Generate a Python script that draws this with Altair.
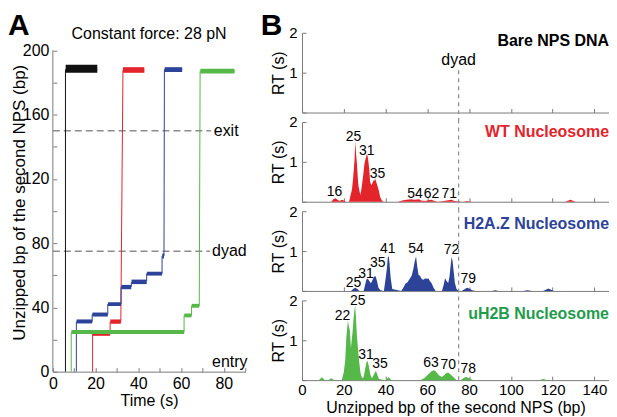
import altair as alt
import pandas as pd

FONT = "Liberation Sans"
AXIS_GRAY = "#7a7a7a"
DASH_GRAY = "#8c8c8c"

BLACK = "#111111"
RED = "#e3242b"
BLUE = "#2d4399"
GREEN = "#55b848"
GREEN_TXT = "#1f9c4b"

# ---------------- Panel A: constant-force unzipping traces ----------------
black_t = [5.9, 5.9, 20.8]
black_bp = [0, 188, 188]
red_t = [18.6, 18.6, 26.8, 26.8, 31.8, 32.8, 42.8]
red_bp = [0, 23.5, 23.5, 31, 31, 187.5, 187.5]
blue_t = [11.0, 11.0, 18.4, 18.4, 25.7, 25.7, 31.9, 31.9, 36.7, 36.7, 43.9, 43.9, 51.1, 51.1, 52.0, 52.2, 60.5]
blue_bp = [0, 31, 31, 35.5, 35.5, 42, 42, 52.5, 53, 55.5, 56.5, 61, 61, 72, 72, 188, 188]
green_t = [8.6, 8.6, 61.4, 61.4, 64.9, 64.9, 68.5, 68.9, 85.0]
green_bp = [0, 24.5, 24.5, 35, 35, 41, 41, 187, 187]

# noisy dwell plateaus: (start s, end s, low bp, high bp)
black_dw = [(6.0, 20.8, 186, 191)]
red_dw = [(18.7, 26.8, 22.3, 24.8), (26.9, 31.8, 29.8, 32.5), (32.8, 42.8, 186, 189.5)]
blue_dw = [(11.1, 18.4, 30, 32.5), (18.5, 25.7, 34.3, 36.8), (25.8, 31.9, 40.8, 43.2),
           (32.0, 36.7, 51.3, 54), (36.8, 43.9, 54.5, 57.3), (44.0, 51.1, 59.8, 62.2),
           (51.2, 52.0, 70.5, 73.5), (52.3, 60.5, 186.5, 189.5)]
green_dw = [(8.7, 61.4, 23.4, 26), (61.5, 64.9, 33.8, 36.2), (65.0, 68.5, 39.8, 42.2),
            (69.0, 85.0, 185.5, 188.5)]

ref_line_bp = [150, 75]
ref_line_end = [74, 73.5]
ref_label_names = ["exit", "dyad", "entry"]
ref_label_bp = [150, 75, 6]
ref_label_t = [75.3, 74.5, 74.5]

# ---------------- Panel B: residence time histograms ----------------
DYAD_B = 75
wt_bp = [0, 14, 15, 16, 17, 18, 19, 20, 21, 22.5, 23.2, 23.9, 24.4, 24.8, 25.2, 25.5, 25.9, 26.3,
         26.7, 27.1, 27.6, 27.9, 28.4, 29, 29.5, 29.9, 30.3, 30.7, 31, 31.4, 31.8, 32.2, 32.6,
         33.1, 33.6, 34.2, 34.6, 35, 35.5, 36.3, 36.9, 37.4, 38.2, 39, 46, 48, 50, 52, 54, 56,
         57, 59, 60.5, 62, 63.5, 65, 68, 70, 71.5, 73, 77, 79, 81, 126, 128.5, 131, 147]
wt_rt = [0, 0, 0.06, 0.09, 0.05, 0.02, 0.05, 0.03, 0, 0, 0.15, 0.3, 0.55, 0.8, 1.1, 1.52, 1.2, 0.95,
         0.6, 0.37, 0.25, 0.17, 0.3, 0.54, 0.75, 0.96, 1.05, 1.12, 1.2, 1.15, 1.0, 0.8, 0.5,
         0.42, 0.45, 0.54, 0.52, 0.58, 0.5, 0.37, 0.25, 0.12, 0.04, 0, 0, 0.03, 0.05, 0.06, 0.05, 0.06,
         0.03, 0.02, 0.04, 0.05, 0.02, 0, 0.02, 0.04, 0.05, 0.02, 0, 0.02, 0, 0, 0.05, 0, 0]
wt_lab = ["16", "25", "31", "35", "54", "62", "71"]
wt_lab_bp = [15.5, 24.7, 31, 36.1, 54.1, 62, 70.5]
wt_lab_rt = [0.14, 1.53, 1.17, 0.6, 0.1, 0.1, 0.1]

h2az_bp = [0, 23.5, 24.5, 25.5, 26.5, 27.5, 29.5, 30.2, 30.8, 31.5, 32.2, 33, 33.8, 34.5, 35.2,
           35.9, 36.6, 37.5, 39.2, 40, 40.6, 41.1, 41.5, 41.9, 42.4, 43.2, 47.5, 48.5, 49.5, 50.5,
           51.5, 52.5, 53.3, 54, 54.6, 55.2, 55.8, 56.5, 57.3, 58.2, 59, 59.8, 60.5, 61.2, 62, 63,
           64, 67, 67.8, 68.5, 69.2, 70, 70.6, 71.1, 71.6, 72.1, 72.6, 73.2, 74, 75, 76.5, 78, 79,
           80, 81.5, 83, 91, 92.5, 94, 106, 108, 110, 115.5, 118, 120.5, 147]
h2az_rt = [0, 0, 0.05, 0.08, 0.05, 0, 0, 0.15, 0.28, 0.31, 0.25, 0.19, 0.28, 0.36, 0.37,
           0.25, 0.08, 0.02, 0, 0.3, 0.55, 0.85, 0.87, 0.7, 0.35, 0.05, 0, 0.08, 0.18, 0.22,
           0.3, 0.38, 0.55, 0.75, 0.87, 0.6, 0.4, 0.38, 0.3, 0.28, 0.32, 0.3, 0.32, 0.25, 0.2, 0.08,
           0, 0, 0.15, 0.32, 0.25, 0.2, 0.35, 0.6, 0.85, 0.75, 0.5, 0.2, 0.05, 0, 0, 0.05, 0.08,
           0.06, 0.02, 0, 0, 0.02, 0, 0, 0.02, 0, 0, 0.06, 0, 0]
h2az_lab = ["25", "31", "35", "41", "54", "72", "79"]
h2az_lab_bp = [24.7, 30.6, 36.3, 41, 54.6, 71.6, 79.6]
h2az_lab_rt = [0.1, 0.33, 0.6, 0.95, 0.95, 0.93, 0.2]

uh_bp = [0, 8, 9.5, 11, 12.5, 14, 15.5, 19, 20, 20.7, 21.2, 21.6, 22, 22.4, 22.9, 23.4, 23.8,
         24.2, 24.6, 25, 25.4, 25.8, 26.3, 26.8, 27.3, 28, 28.8, 29.5, 30.3, 30.9, 31.4, 32, 32.7,
         33.5, 34.3, 34.9, 35.4, 36, 36.8, 40, 41.4, 43, 56.5, 58.5, 60.5, 62, 63, 64, 65.5, 67,
         68, 69, 70, 71, 72.5, 74, 76, 77.5, 78.8, 80, 82, 113.5, 115.5, 117.5, 147]
uh_rt = [0, 0, 0.07, 0, 0, 0.05, 0, 0, 0.2, 0.5, 1.05, 1.3, 1.49, 1.35, 1.25, 0.8, 1.0,
         1.2, 1.5, 1.7, 1.88, 1.6, 1.1, 0.8, 0.5, 0.18, 0.05, 0.08, 0.3, 0.45, 0.48, 0.35, 0.14,
         0.05, 0.12, 0.2, 0.23, 0.15, 0.03, 0, 0.07, 0, 0, 0.05, 0.15, 0.22, 0.25, 0.22, 0.12, 0.08,
         0.12, 0.17, 0.19, 0.15, 0.08, 0, 0, 0.06, 0.08, 0.05, 0, 0, 0.03, 0, 0]
uh_lab = ["22", "25", "31", "35", "63", "70", "78"]
uh_lab_bp = [19.4, 26.7, 30.6, 37.4, 61.8, 70, 79.6]
uh_lab_rt = [1.5, 1.88, 0.53, 0.3, 0.34, 0.28, 0.17]

# ---------------- Panel A chart ----------------
A_W, A_H = 193, 340
A_YMAX = 210.9
xA = alt.Scale(domain=[0, 90], nice=False, zero=False)
yA = alt.Scale(domain=[0, A_YMAX], nice=False, zero=False)
one = pd.DataFrame({"t": [0], "b0": [0], "b1": [200]})

a_axis = alt.Chart(one).mark_rule(color=AXIS_GRAY, strokeWidth=1).encode(
    x=alt.X("t:Q", scale=xA, axis=alt.Axis(
        orient="bottom", values=list(range(0, 81, 20)), title="Time (s)", ticks=False,
        domain=True, domainColor=AXIS_GRAY, labelPadding=4, labelFlush=False, titlePadding=1)),
    y=alt.Y("b0:Q", scale=yA, axis=alt.Axis(
        orient="left", values=list(range(0, 201, 40)), title="Unzipped bp of the second NPS (bp)",
        ticks=False, domain=False, labelPadding=4, titlePadding=-6.5, titleFontSize=17)),
    y2="b1",
)
a_ticks = alt.Chart(one).mark_point(opacity=0).encode(
    x=alt.X("t:Q", scale=xA, axis=alt.Axis(
        orient="top", offset=-A_H, values=list(range(0, 91, 10)), labels=False, domain=False,
        tickSize=4, tickColor=AXIS_GRAY, title=None)),
    y=alt.Y("b0:Q", scale=yA, axis=alt.Axis(
        orient="right", offset=-A_W, values=list(range(0, 201, 20)), labels=False, domain=False,
        tickSize=4, tickColor=AXIS_GRAY, title=None)),
)

refs = alt.Chart(pd.DataFrame({"bp": ref_line_bp, "t1": ref_line_end, "t0": [0, 0]})).mark_rule(
    color=DASH_GRAY, strokeDash=[7, 4], strokeWidth=1.5).encode(
    x=alt.X("t0:Q", scale=xA, axis=None), x2="t1", y=alt.Y("bp:Q", scale=yA, axis=None))
ref_lab = alt.Chart(pd.DataFrame({"name": ref_label_names, "bp": ref_label_bp, "t": ref_label_t})).mark_text(
    align="left", baseline="middle", fontSize=16, font=FONT, color="black").encode(
    x=alt.X("t:Q", scale=xA, axis=None), y=alt.Y("bp:Q", scale=yA, axis=None), text="name:N")


def trace(t, bp, dw, color):
    df = pd.DataFrame({"t": t, "bp": bp, "i": list(range(len(t)))})
    line = alt.Chart(df).mark_line(color=color, strokeWidth=1).encode(
        x=alt.X("t:Q", scale=xA, axis=None), y=alt.Y("bp:Q", scale=yA, axis=None), order="i:Q")
    ddf = pd.DataFrame(dw, columns=["t0", "t1", "lo", "hi"])
    rect = alt.Chart(ddf).mark_rect(color=color).encode(
        x=alt.X("t0:Q", scale=xA, axis=None), x2="t1", y=alt.Y("lo:Q", scale=yA, axis=None), y2="hi")
    return [line, rect]


a_title = alt.Chart(one).mark_text(fontSize=16, font=FONT, align="center", baseline="alphabetic").encode(
    x=alt.value(A_W / 2), y=alt.value(6.5), text=alt.value("Constant force: 28 pN"))
a_letter = alt.Chart(one).mark_text(fontSize=30, font=FONT, fontWeight="bold", align="left",
                                    baseline="alphabetic").encode(
    x=alt.value(-45), y=alt.value(2), text=alt.value("A"))

panelA = alt.layer(
    a_axis, a_ticks, refs,
    *trace(black_t, black_bp, black_dw, BLACK),
    *trace(red_t, red_bp, red_dw, RED),
    *trace(blue_t, blue_bp, blue_dw, BLUE),
    *trace(green_t, green_bp, green_dw, GREEN),
    ref_lab, a_title, a_letter,
).properties(width=A_W, height=A_H)

# ---------------- Panel B charts ----------------
B_W, B_H = 308, 80
xB = alt.Scale(domain=[0, 147], nice=False, zero=False)
yB = alt.Scale(domain=[0, 2], nice=False, zero=False)


def b_panel(name, name_rt, name_color, rule_lo, rule_hi, bottom,
            area=None, color=None, labels=None, extras=()):
    xaxis_kw = dict(orient="bottom", values=list(range(0, 141, 20)), labels=bottom, ticks=False,
                    domain=True, domainColor=AXIS_GRAY, labelPadding=2, labelFlush=False,
                    labelFontSize=15, titlePadding=2)
    xaxis_kw["title"] = "Unzipped bp of the second NPS (bp)" if bottom else None
    axis_df = pd.DataFrame({"bp": [DYAD_B], "lo": [rule_lo], "hi": [rule_hi]})
    layers = [alt.Chart(axis_df).mark_rule(color=DASH_GRAY, strokeDash=[4, 4], strokeWidth=1.2).encode(
        x=alt.X("bp:Q", scale=xB, axis=alt.Axis(**xaxis_kw)),
        y=alt.Y("lo:Q", scale=yB, axis=alt.Axis(
            orient="left", values=[1, 2], title="RT (s)", ticks=False, domain=True,
            domainColor=AXIS_GRAY, labelPadding=5, labelFontSize=15, titlePadding=2)),
        y2="hi",
    )]
    layers.append(alt.Chart(axis_df).mark_point(opacity=0).encode(
        x=alt.X("bp:Q", scale=xB, axis=alt.Axis(
            orient="top", offset=-B_H, values=list(range(0, 141, 20)), labels=False, domain=False,
            tickSize=4, tickColor=AXIS_GRAY, title=None)),
        y=alt.Y("lo:Q", scale=yB, axis=alt.Axis(
            orient="right", offset=-B_W, values=[0, 1, 2], labels=False, domain=False,
            tickSize=4, tickColor=AXIS_GRAY, title=None)),
    ))
    if area is not None:
        adf = pd.DataFrame({"bp": area[0], "rt": area[1]})
        layers.insert(0, alt.Chart(adf).mark_area(color=color, interpolate="linear").encode(
            x=alt.X("bp:Q", scale=xB, axis=None), y=alt.Y("rt:Q", scale=yB, axis=None)))
        ldf = pd.DataFrame({"txt": labels[0], "bp": labels[1], "rt": labels[2]})
        layers.append(alt.Chart(ldf).mark_text(fontSize=14, font=FONT, color="black",
                                               baseline="alphabetic", align="center").encode(
            x=alt.X("bp:Q", scale=xB, axis=None), y=alt.Y("rt:Q", scale=yB, axis=None), text="txt:N"))
    ndf = pd.DataFrame({"txt": [name], "bp": [147], "rt": [name_rt]})
    layers.append(alt.Chart(ndf).mark_text(fontSize=16, font=FONT, fontWeight="bold", color=name_color,
                                           align="right", baseline="alphabetic").encode(
        x=alt.X("bp:Q", scale=xB, axis=None), y=alt.Y("rt:Q", scale=yB, axis=None), text="txt:N"))
    layers.extend(extras)
    return alt.layer(*layers).properties(width=B_W, height=B_H)


dyad_txt = alt.Chart(pd.DataFrame({"txt": ["dyad"], "bp": [DYAD_B], "rt": [1.2]})).mark_text(
    fontSize=16, font=FONT, color="black", align="center", baseline="alphabetic").encode(
    x=alt.X("bp:Q", scale=xB, axis=None), y=alt.Y("rt:Q", scale=yB, axis=None), text="txt:N")
b_letter = alt.Chart(one).mark_text(fontSize=30, font=FONT, fontWeight="bold", align="left",
                                    baseline="alphabetic").encode(
    x=alt.value(-41.3), y=alt.value(2), text=alt.value("B"))

b1 = b_panel("Bare NPS DNA", 1.68, "black", -0.24, 1.12, False, extras=(dyad_txt, b_letter))
b2 = b_panel("WT Nucleosome", 1.62, RED, -0.24, 2.0, False, area=(wt_bp, wt_rt), color=RED,
             labels=(wt_lab, wt_lab_bp, wt_lab_rt))
b3 = b_panel("H2A.Z Nucleosome", 1.55, BLUE, -0.24, 2.0, False, area=(h2az_bp, h2az_rt), color=BLUE,
             labels=(h2az_lab, h2az_lab_bp, h2az_lab_rt))
b4 = b_panel("uH2B Nucleosome", 1.54, GREEN_TXT, 0, 2.0, True, area=(uh_bp, uh_rt), color=GREEN,
             labels=(uh_lab, uh_lab_bp, uh_lab_rt))

panelB = alt.vconcat(b1, b2, b3, b4, spacing=9.5, bounds="flush")

chart = alt.hconcat(panelA, panelB, spacing=57, bounds="flush").properties(
    padding={"left": 0, "top": 2.2, "right": 0, "bottom": 0}, background="white"
).configure_view(stroke=None).configure_axis(
    labelFont=FONT, titleFont=FONT, labelFontSize=16, titleFontSize=16, labelColor="black",
    titleColor="black", titleFontWeight="normal", grid=False
)

chart.save("out.html", embed_options={"renderer": "svg", "actions": False})
